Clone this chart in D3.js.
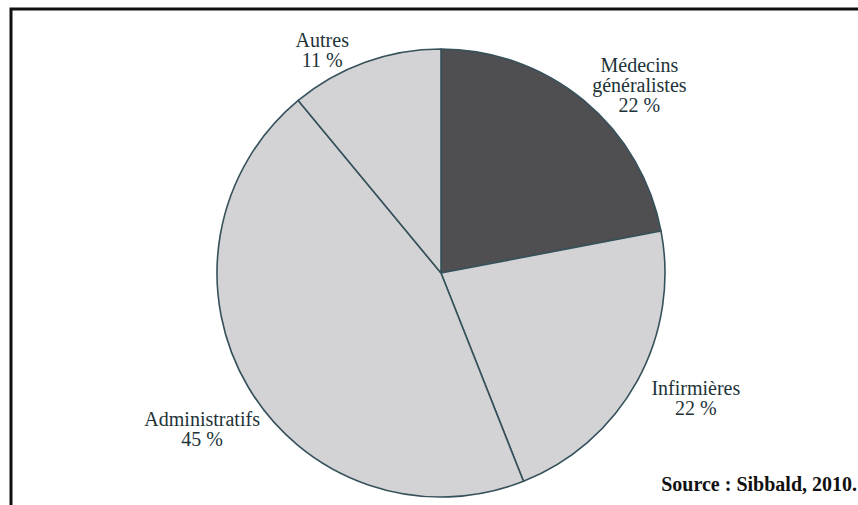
<!DOCTYPE html>
<html>
<head>
<meta charset="utf-8">
<script src="https://cdn.jsdelivr.net/npm/d3@7"></script>
<style>
    body { margin: 0; background: #fff; }
</style>
</head>
<body>
<div class="chart"></div>
<script>
// data (clockwise from 12 o'clock)
var categories = ["Médecins généralistes", "Infirmières", "Administratifs", "Autres"];
var values = [22, 22, 45, 11];
var labelLines = [["Médecins", "généralistes", "22 %"], ["Infirmières", "22 %"], ["Administratifs", "45 %"], ["Autres", "11 %"]];
var fills = ["#4f4f51", "#d3d3d5", "#d3d3d5", "#d3d3d5"];

var width = 858, height = 505;
var cx = 441, cy = 273, radius = 224;
var serif = "'Times New Roman', 'Liberation Serif', Times, serif";

var svg = d3.select(".chart").append("svg")
    .attr("width", width)
    .attr("height", height);

// frame, open to the right and bottom
svg.append("path")
    .attr("d", "M11,505 L11,9 L858,9")
    .attr("fill", "none")
    .attr("stroke", "#111")
    .attr("stroke-width", 3);

var data = categories.map((c, i) => ({name: c, value: values[i], lines: labelLines[i], fill: fills[i]}));

var pie = d3.pie().sort(null).value(d => d.value);
var arc = d3.arc().innerRadius(0).outerRadius(radius);

var g = svg.append("g").attr("transform", `translate(${cx},${cy})`);

g.selectAll("path")
    .data(pie(data))
    .enter()
    .append("path")
    .attr("d", arc)
    .attr("fill", d => d.data.fill)
    .attr("stroke", "#35515a")
    .attr("stroke-width", 1.6)
    .attr("stroke-linejoin", "round");

// labels sit outside the pie, along the slice mid angle, nudged by hand
var labelArc = d3.arc().innerRadius(radius * 1.13).outerRadius(radius * 1.13);
var labelOffsets = [[37, -6], [33, 0], [-21, 24], [-33, 12]];

var labels = g.selectAll("text.slice-label")
    .data(pie(data))
    .enter()
    .append("text")
    .attr("class", "slice-label")
    .attr("text-anchor", "middle")
    .attr("font-family", serif)
    .attr("font-size", 20)
    .attr("fill", "#1d3338")
    .attr("transform", (d, i) => {
        var p = labelArc.centroid(d);
        return `translate(${p[0] + labelOffsets[i][0]},${p[1] + labelOffsets[i][1]})`;
    });

labels.selectAll("tspan")
    .data(d => d.data.lines)
    .enter()
    .append("tspan")
    .attr("x", 0)
    .attr("dy", (d, i) => i === 0 ? 0 : 20)
    .text(d => d);

svg.append("text")
    .attr("x", 857)
    .attr("y", 491)
    .attr("text-anchor", "end")
    .attr("font-family", serif)
    .attr("font-size", 20)
    .attr("font-weight", "bold")
    .attr("fill", "#111")
    .text("Source : Sibbald, 2010.");
</script>
</body>
</html>
